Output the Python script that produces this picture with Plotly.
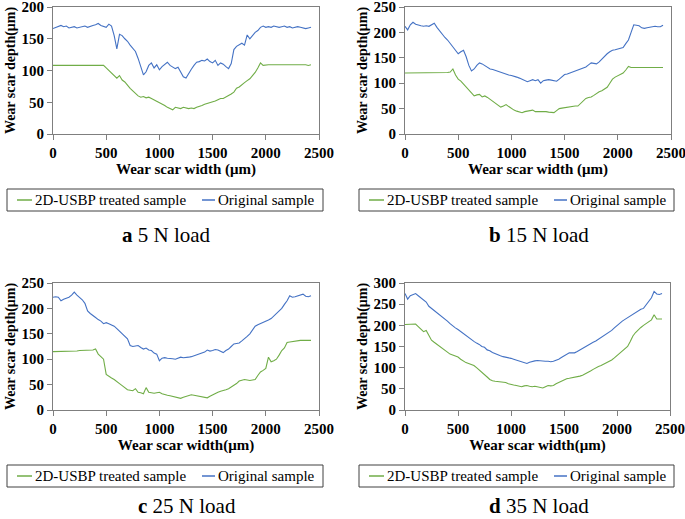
import plotly.graph_objects as go

# ---------------- data (x grid: 0..2425 um, step 25) ----------------
width_um = list(range(0, 2450, 25))

a_original = [166,168,170,171,169,170,167,168,169,167,
              168,169,170,168,170,171,172,174,171,170,
              168,173,170,155,134,157,155,150,146,140,
              134,130,119,106,93,98,108,112,104,109,
              101,106,110,113,108,106,103,105,97,90,
              88,96,102,108,113,114,116,115,118,114,
              112,116,108,112,110,106,103,111,133,138,
              141,143,140,156,150,155,160,163,168,170,
              168,169,168,170,169,168,169,170,168,169,
              167,168,169,168,167,166,167,168]
a_treated = [108,108,108,108,108,108,108,108,108,108,
             108,108,108,108,108,108,108,108,108,108,
             104,100,96,92,88,92,85,82,76,72,
             68,64,60,58,59,57,58,56,54,52,
             50,47,45,42,40,38,42,41,40,42,
             41,40,41,40,42,43,45,47,48,50,
             51,52,54,56,56,58,60,63,66,72,
             74,78,81,84,87,92,97,104,112,108,
             109,109,109,109,109,109,109,109,109,109,
             109,109,110,109,109,109,108,109]

b_original = [212,205,215,220,216,214,213,212,213,212,
              215,218,210,203,195,190,185,178,170,163,
              158,162,165,152,135,124,128,135,140,138,
              135,132,128,127,125,124,122,119,117,116,
              115,114,112,110,108,106,103,105,107,105,
              107,100,105,106,107,106,105,104,108,112,
              117,118,120,122,125,126,128,130,132,136,
              140,139,138,142,148,153,158,162,165,166,
              167,168,170,178,185,200,215,214,213,209,
              208,209,210,211,212,211,211,214]
b_treated = [120,120,120,120,120,120,120,120,120,120,
             120,120,121,121,121,121,121,122,128,116,
             108,104,98,93,88,80,75,77,78,73,
             75,72,68,64,60,56,53,55,58,54,
             50,47,45,43,42,44,45,46,47,44,
             44,45,45,44,43,43,42,46,50,51,
             52,53,53,54,55,55,60,65,70,72,
             73,76,80,83,85,88,92,100,108,112,
             115,117,120,126,133,131,131,130,130,130,
             130,130,131,130,130,130,130,131]

c_original = [222,223,222,215,218,220,222,226,232,226,
              222,217,210,195,190,185,182,178,175,170,
              172,170,167,165,160,155,150,145,140,127,
              125,126,127,123,120,122,118,117,112,110,
              97,102,103,102,102,101,100,102,104,103,
              103,104,105,107,108,110,112,114,118,116,
              117,119,118,116,113,117,120,125,130,131,
              132,136,140,145,150,158,165,168,170,173,
              175,177,180,185,190,195,200,208,215,225,
              222,223,225,227,228,224,223,225]
c_treated = [115,115,115,115,115,116,116,116,116,116,
             117,117,117,117,118,118,120,110,105,100,
             70,66,63,60,55,52,48,44,40,39,
             38,42,35,34,32,44,35,34,33,34,
             35,32,30,29,28,27,25,24,23,25,
             27,29,30,29,28,28,27,26,24,27,
             30,33,35,37,38,40,42,45,48,52,
             57,59,60,59,58,59,60,68,75,78,
             82,104,95,97,100,108,117,122,133,134,
             135,136,137,137,137,137,137,137]

d_original = [275,262,270,272,275,270,265,260,255,245,
              240,235,232,226,220,215,210,204,198,194,
              190,185,180,176,172,166,162,158,155,150,
              148,142,140,136,133,130,128,126,125,123,
              122,120,118,116,115,112,110,113,115,116,
              117,116,116,115,115,114,115,117,120,124,
              128,132,135,135,135,138,142,146,150,154,
              158,160,163,167,172,175,178,183,188,194,
              200,205,210,214,218,222,228,232,235,238,
              240,248,255,265,280,274,273,275]
d_treated = [202,202,202,203,203,197,190,185,188,175,
             165,160,155,150,145,140,135,132,130,127,
             125,120,115,112,110,108,105,100,95,90,
             85,78,72,69,68,67,67,66,65,62,
             60,59,58,56,55,57,58,56,55,56,
             55,54,52,55,58,57,58,62,65,68,
             72,74,75,76,77,78,80,82,85,88,
             92,96,100,103,105,108,112,115,118,123,
             128,133,138,144,150,162,175,183,190,195,
             200,205,210,213,225,215,215,215]

panel_letters = ["a", "b", "c", "d"]
panel_loads = ["5 N load", "15 N load", "25 N load", "35 N load"]
y_maxes = [200, 250, 250, 300]
x_titles = ["Wear scar width (μm)", "Wear scar width (μm)", "Wear scar width(μm)", "Wear scar width(μm)"]
y_title = "Wear scar depth(μm)"
series_names = ["2D-USBP treated sample", "Original sample"]
x_ticks = [0, 500, 1000, 1500, 2000, 2500]

treated = [a_treated, b_treated, c_treated, d_treated]
original = [a_original, b_original, c_original, d_original]

# ---------------- layout geometry (pixels) ----------------
W, H = 685, 519
GREEN = "#70AD47"
BLUE = "#4472C4"
FONT = "Liberation Serif, Times New Roman, serif"

# plot-area boxes: (x0, x1, ytop, ybottom) in pixels
boxes = [(53, 319, 7, 134), (405, 671, 7, 134), (53, 319, 283, 410), (405, 670, 283, 410)]
legend_boxes = [(7, 323, 189, 211), (359, 674, 189, 211), (7, 323, 465, 487), (359, 674, 465, 487)]
caption_pos = [(166, 235), (539, 235), (187, 506), (539, 506)]


def px(x):
    return x / W


def py(y):
    return 1 - y / H


fig = go.Figure()
shapes = []
annotations = []

for i in range(4):
    sfx = "" if i == 0 else str(i + 1)
    xa, ya = "x" + sfx, "y" + sfx
    fig.add_trace(go.Scatter(x=width_um, y=treated[i], mode="lines", name=series_names[0],
                             line=dict(color=GREEN, width=1.1), xaxis=xa, yaxis=ya, showlegend=False))
    fig.add_trace(go.Scatter(x=width_um, y=original[i], mode="lines", name=series_names[1],
                             line=dict(color=BLUE, width=1.1), xaxis=xa, yaxis=ya, showlegend=False))
    x0, x1, yt, yb = boxes[i]
    axis_common = dict(showline=True, linecolor="#7f7f7f", linewidth=1.2, mirror=True,
                       ticks="outside", ticklen=5, tickcolor="#7f7f7f", showgrid=False,
                       zeroline=False, automargin=False, ticklabeloverflow="allow",
                       tickfont=dict(family=FONT, size=15, color="black"))
    fig.layout["xaxis" + sfx] = dict(domain=[px(x0), px(x1)], anchor=ya, range=[0, 2500],
                                     tickvals=x_ticks, ticktext=[f"<b>{t}</b>" for t in x_ticks],
                                     title=dict(text=f"<b>{x_titles[i]}</b>", standoff=1,
                                                font=dict(family=FONT, size=15, color="black")),
                                     **axis_common)
    yvals = list(range(0, y_maxes[i] + 1, 50))
    fig.layout["yaxis" + sfx] = dict(domain=[py(yb), py(yt)], anchor=xa, range=[0, y_maxes[i]],
                                     tickvals=yvals, ticktext=[f"<b>{t}</b>" for t in yvals],
                                     title=dict(text=f"<b>{y_title}</b>", standoff=2,
                                                font=dict(family=FONT, size=14, color="black")),
                                     **axis_common)
    # legend box
    lx0, lx1, lyt, lyb = legend_boxes[i]
    shapes.append(dict(type="rect", xref="paper", yref="paper", x0=px(lx0), x1=px(lx1),
                       y0=py(lyb), y1=py(lyt), line=dict(color="#404040", width=1)))
    ly = (lyt + lyb) / 2
    shapes.append(dict(type="line", xref="paper", yref="paper", x0=px(lx0 + 10), x1=px(lx0 + 25),
                       y0=py(ly), y1=py(ly), line=dict(color=GREEN, width=1.5)))
    annotations.append(dict(xref="paper", yref="paper", x=px(lx0 + 26), y=py(ly), xanchor="left",
                            yanchor="middle", showarrow=False, text=series_names[0],
                            font=dict(family=FONT, size=15, color="black")))
    shapes.append(dict(type="line", xref="paper", yref="paper", x0=px(lx0 + 195), x1=px(lx0 + 208),
                       y0=py(ly), y1=py(ly), line=dict(color=BLUE, width=1.5)))
    annotations.append(dict(xref="paper", yref="paper", x=px(lx0 + 209), y=py(ly), xanchor="left",
                            yanchor="middle", showarrow=False, text=series_names[1],
                            font=dict(family=FONT, size=15, color="black")))
    cx, cy = caption_pos[i]
    annotations.append(dict(xref="paper", yref="paper", x=px(cx), y=py(cy), xanchor="center",
                            yanchor="middle", showarrow=False,
                            text=f"<b>{panel_letters[i]}</b> {panel_loads[i]}",
                            font=dict(family=FONT, size=21, color="black")))

fig.update_layout(width=W, height=H, margin=dict(l=0, r=0, t=0, b=0),
                  paper_bgcolor="white", plot_bgcolor="white",
                  font=dict(family=FONT, color="black"),
                  shapes=shapes, annotations=annotations, showlegend=False)

fig.write_html("out.html", config={"displayModeBar": False},
               post_script="document.body.style.margin='0';document.body.style.padding='0';")
